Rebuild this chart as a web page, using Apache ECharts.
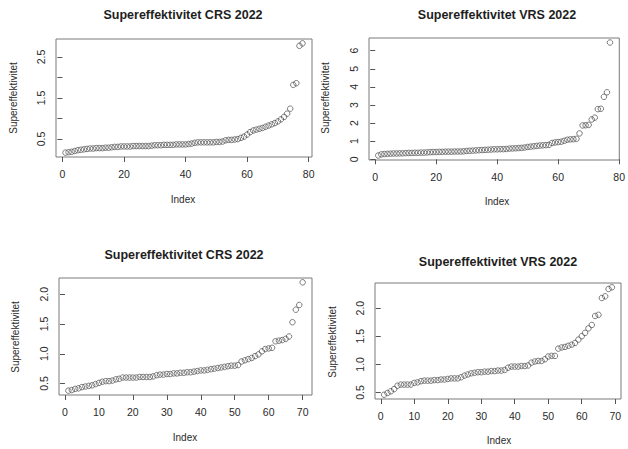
<!DOCTYPE html>
<html>
<head>
<meta charset="utf-8">
<script src="https://cdn.jsdelivr.net/npm/echarts@6/dist/echarts.min.js"></script>
<style>
  html, body { margin: 0; padding: 0; background: #fff; }
  #chart { width: 628px; height: 449px; }
</style>
</head>
<body>
<div id="chart"></div>
<script>
// Sorted super-efficiency scores, plotted against their index
const crsTop = [
  0.17, 0.18, 0.19, 0.21, 0.23, 0.24, 0.25, 0.26, 0.27, 0.27,
  0.28, 0.28, 0.28, 0.29, 0.29, 0.30, 0.31, 0.31, 0.32, 0.32,
  0.32, 0.32, 0.33, 0.33, 0.33, 0.33, 0.33, 0.33, 0.34, 0.35,
  0.35, 0.35, 0.36, 0.36, 0.36, 0.36, 0.37, 0.37, 0.37, 0.37,
  0.38, 0.39, 0.41, 0.42, 0.42, 0.42, 0.42, 0.42, 0.42, 0.43,
  0.43, 0.44, 0.47, 0.48, 0.48, 0.49, 0.50, 0.53, 0.56, 0.61,
  0.67, 0.71, 0.73, 0.75, 0.77, 0.80, 0.83, 0.86, 0.89, 0.93,
  0.98, 1.04, 1.12, 1.24, 1.82, 1.86, 2.77, 2.83
];
const vrsTop = [
  0.21, 0.27, 0.29, 0.30, 0.31, 0.32, 0.32, 0.33, 0.33, 0.34,
  0.35, 0.35, 0.36, 0.36, 0.37, 0.37, 0.38, 0.39, 0.40, 0.40,
  0.41, 0.41, 0.42, 0.42, 0.42, 0.43, 0.43, 0.43, 0.44, 0.46,
  0.47, 0.48, 0.49, 0.50, 0.51, 0.52, 0.53, 0.54, 0.55, 0.55,
  0.56, 0.56, 0.57, 0.59, 0.60, 0.61, 0.62, 0.63, 0.65, 0.68,
  0.70, 0.72, 0.74, 0.76, 0.77, 0.78, 0.80, 0.90, 0.93, 0.95,
  0.97, 1.02, 1.08, 1.10, 1.11, 1.13, 1.43, 1.87, 1.88, 1.90,
  2.20, 2.30, 2.77, 2.79, 3.45, 3.70, 6.45
];
const crsBottom = [
  0.38, 0.39, 0.41, 0.42, 0.44, 0.45, 0.46, 0.47, 0.49, 0.51,
  0.53, 0.54, 0.54, 0.55, 0.57, 0.58, 0.60, 0.60, 0.60, 0.60,
  0.60, 0.61, 0.61, 0.61, 0.61, 0.62, 0.64, 0.65, 0.65, 0.66,
  0.66, 0.67, 0.67, 0.68, 0.68, 0.69, 0.69, 0.70, 0.71, 0.72,
  0.72, 0.73, 0.74, 0.75, 0.76, 0.77, 0.78, 0.79, 0.80, 0.80,
  0.81, 0.87, 0.89, 0.91, 0.93, 0.96, 0.99, 1.04, 1.08, 1.09,
  1.10, 1.21, 1.22, 1.23, 1.25, 1.29, 1.53, 1.74, 1.82, 2.20
];
const vrsBottom = [
  0.46, 0.49, 0.52, 0.56, 0.62, 0.64, 0.64, 0.64, 0.64, 0.67,
  0.68, 0.70, 0.71, 0.71, 0.71, 0.72, 0.72, 0.73, 0.73, 0.74,
  0.75, 0.75, 0.75, 0.77, 0.80, 0.82, 0.84, 0.85, 0.86, 0.86,
  0.87, 0.87, 0.88, 0.88, 0.89, 0.89, 0.90, 0.94, 0.96, 0.96,
  0.96, 0.97, 0.97, 0.98, 1.03, 1.05, 1.06, 1.06, 1.09, 1.14,
  1.15, 1.15, 1.28, 1.30, 1.31, 1.33, 1.35, 1.38, 1.44, 1.50,
  1.56, 1.64, 1.70, 1.86, 1.88, 2.18, 2.21, 2.34, 2.37
];

const panelTitles = [
  'Supereffektivitet CRS 2022', 'Supereffektivitet VRS 2022',
  'Supereffektivitet CRS 2022', 'Supereffektivitet VRS 2022'
];
const xAxisTitle = 'Index';
const yAxisTitle = 'Supereffektivitet';

const xTicksTop = [0, 20, 40, 60, 80];
const xTicksBottom = [0, 10, 20, 30, 40, 50, 60, 70];
const yTicksCrsTop = [0.5, 1.0, 1.5, 2.0, 2.5];
const yLabelsCrsTop = [0.5, 1.5, 2.5];
const yTicksVrsTop = [0, 1, 2, 3, 4, 5, 6];
const yTicksBottom = [0.5, 1.0, 1.5, 2.0];

// Panel layout: plot box, title centre, axis title positions
const panels = [
  { values: crsTop, box: [56, 39, 256, 118], xTicks: xTicksTop, yTicks: yTicksCrsTop, yLabels: yLabelsCrsTop, dec: 1,
    title: [183, 15], xName: [183, 199], yName: [13, 98] },
  { values: vrsTop, box: [369, 38, 256, 122], xTicks: xTicksTop, yTicks: yTicksVrsTop, yLabels: yTicksVrsTop, dec: 0,
    title: [497, 15], xName: [497, 201], yName: [325, 98] },
  { values: crsBottom, box: [59, 278, 253, 117], xTicks: xTicksBottom, yTicks: yTicksBottom, yLabels: yTicksBottom, dec: 1,
    title: [184, 255], xName: [185, 437], yName: [15, 337] },
  { values: vrsBottom, box: [375, 283, 246, 116], xTicks: xTicksBottom, yTicks: yTicksBottom, yLabels: yTicksBottom, dec: 1,
    title: [498, 262], xName: [499, 440], yName: [332, 342] }
];

const FONT = '"Liberation Sans", Arial, sans-serif';
const TEXT = '#2a2a2a';

// R-style axis range: data range padded by 4% on each side
function padded(lo, hi) {
  const d = (hi - lo) * 0.04;
  return [lo - d, hi + d];
}

const grids = [], xAxes = [], yAxes = [], series = [], graphics = [];

panels.forEach((p, i) => {
  const [left, top, width, height] = p.box;
  grids.push({ left, top, width, height, show: true, borderColor: '#7a7a7a', borderWidth: 1, backgroundColor: 'transparent' });

  const n = p.values.length;
  const xr = padded(1, n);
  const yr = padded(Math.min(...p.values), Math.max(...p.values));

  xAxes.push({
    type: 'value', gridIndex: i, min: xr[0], max: xr[1],
    axisLine: { show: false },
    splitLine: { show: false },
    axisTick: { show: true, inside: false, length: 5, customValues: p.xTicks, lineStyle: { color: '#555', width: 1 } },
    axisLabel: { show: true, margin: 11, customValues: p.xTicks, color: TEXT, fontSize: 10.5, fontFamily: FONT,
      formatter: v => String(Math.round(v)) }
  });
  yAxes.push({
    type: 'value', gridIndex: i, min: yr[0], max: yr[1],
    axisLine: { show: false },
    splitLine: { show: false },
    axisTick: { show: true, inside: false, length: 5, customValues: p.yTicks, lineStyle: { color: '#555', width: 1 } },
    axisLabel: { show: true, margin: 10, rotate: 90, customValues: p.yLabels, color: TEXT, fontSize: 10.5, fontFamily: FONT,
      formatter: v => Number(v).toFixed(p.dec) }
  });
  series.push({
    type: 'scatter', xAxisIndex: i, yAxisIndex: i,
    data: p.values.map((v, k) => [k + 1, v]),
    symbol: 'circle', symbolSize: 5.5,
    itemStyle: { color: 'rgba(255,255,255,0)', borderColor: '#4a4a4a', borderWidth: 0.9 },
    emphasis: { disabled: true },
    silent: true
  });

  graphics.push({
    type: 'text', x: p.title[0], y: p.title[1],
    style: { text: panelTitles[i], align: 'center', verticalAlign: 'middle',
      font: 'bold 12.5px ' + FONT, fill: '#1e1e1e' }
  });
  graphics.push({
    type: 'text', x: p.xName[0], y: p.xName[1],
    style: { text: xAxisTitle, align: 'center', verticalAlign: 'middle',
      font: '10px ' + FONT, fill: TEXT }
  });
  graphics.push({
    type: 'text', x: p.yName[0], y: p.yName[1], rotation: Math.PI / 2,
    style: { text: yAxisTitle, align: 'center', verticalAlign: 'middle',
      font: '10px ' + FONT, fill: TEXT }
  });
});

const chart = echarts.init(document.getElementById('chart'), null, { renderer: 'svg' });
chart.setOption({
  animation: false,
  backgroundColor: '#ffffff',
  grid: grids,
  xAxis: xAxes,
  yAxis: yAxes,
  series: series,
  graphic: graphics
});
</script>
</body>
</html>
